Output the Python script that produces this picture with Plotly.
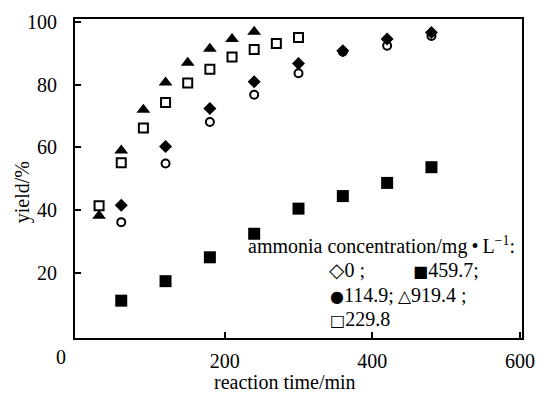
import plotly.graph_objects as go

# Reaction time (min) and yield (%) for each ammonia concentration (mg/L)
t_0 = [60, 120, 180, 240, 300, 360, 420, 480]
y_0 = [36.2, 54.9, 68.1, 76.8, 83.6, 90.5, 92.4, 95.5]

t_114 = [60, 120, 180, 240, 300, 360, 420, 480]
y_114 = [41.6, 60.3, 72.4, 80.9, 86.7, 90.8, 94.5, 96.6]

t_229 = [30, 60, 90, 120, 150, 180, 210, 240, 270, 300]
y_229 = [41.4, 55.1, 66.2, 74.3, 80.5, 84.9, 88.8, 91.2, 93.1, 95.0]

t_459 = [60, 120, 180, 240, 300, 360, 420, 480]
y_459 = [11.2, 17.4, 25.0, 32.5, 40.5, 44.5, 48.7, 53.7]

t_919 = [30, 60, 90, 120, 150, 180, 210, 240]
y_919 = [38.2, 59.0, 72.0, 80.7, 87.0, 91.4, 94.5, 96.8]

x_ticks = [200, 400, 600]
y_ticks = [20, 40, 60, 80, 100]

legend_title = "ammonia concentration/mg\u2009\u2022\u2009L<sup>\u22121</sup>:"
legend_items = [
    ("\u25C7", "0 ;"),
    ("\u25A0", "459.7;"),
    ("\u25CF", "114.9;"),
    ("\u25B3", "919.4 ;"),
    ("\u25A1", "229.8"),
]
legend_sym_size = [20, 16, 16, 17, 16]

FONT = "Liberation Serif"
W, H = 546, 397
ML, MR, MT, MB = 75, 11, 13, 59

fig = go.Figure()

def add_series(x, y, symbol, size, lw=0):
    fig.add_trace(go.Scatter(
        x=x, y=y, mode="markers", showlegend=False,
        marker=dict(symbol=symbol, size=size, color="black",
                    line=dict(color="black", width=lw)),
    ))

add_series(t_0, y_0, "circle-open", 8, 2)
add_series(t_114, y_114, "diamond", 10)
add_series(t_229, y_229, "square-open", 9, 2)
add_series(t_919, y_919, "triangle-up", 12)
add_series(t_459, y_459, "square", 12)

def px_x(p):
    return (p - ML) / (W - ML - MR)

def px_y(p):
    return 1 - (p - MT) / (H - MT - MB)

ann = []
# legend block drawn as text
ann.append(dict(text=legend_title, x=px_x(251), y=px_y(244), xanchor="left",
                yanchor="middle", font=dict(size=20)))
legend_pos = [(334, 269), (421, 269), (335, 294), (405, 294), (335, 319)]
for (sym, lab), fs, (lx, ly) in zip(legend_items, legend_sym_size, legend_pos):
    sym_html = ("<span style='font-family:DejaVu Sans;font-weight:bold;"
                "font-size:%dpx'>" % fs) + sym + "</span>"
    ann.append(dict(text=sym_html + lab, x=px_x(lx), y=px_y(ly), xanchor="left",
                    yanchor="middle", font=dict(size=20)))

# origin label, axis titles
ann.append(dict(text="0", x=px_x(61), y=px_y(357), xanchor="center",
                yanchor="middle", font=dict(size=20)))
ann.append(dict(text="reaction time/min", x=px_x(291), y=px_y(383),
                xanchor="center", yanchor="middle", font=dict(size=20)))
ann.append(dict(text="yield/%", x=px_x(21), y=px_y(190), xanchor="center",
                yanchor="middle", textangle=-90, font=dict(size=20)))

for a in ann:
    a.update(xref="paper", yref="paper", showarrow=False)

fig.update_layout(
    width=W, height=H,
    margin=dict(l=ML, r=MR, t=MT, b=MB, pad=0),
    paper_bgcolor="white", plot_bgcolor="white",
    font=dict(family=FONT, size=20, color="black"),
    annotations=ann,
    xaxis=dict(range=[-2.6, 602.6], tickvals=x_ticks, ticks="inside",
               ticklen=6, tickwidth=1.5, tickcolor="black",
               showline=True, linewidth=2, linecolor="black", mirror=True,
               showgrid=False, zeroline=False, ticklabelstandoff=4,
               ticklabeloverflow="allow"),
    yaxis=dict(range=[-0.7, 100.9], tickvals=y_ticks, ticks="inside",
               ticklen=6, tickwidth=1.5, tickcolor="black",
               showline=True, linewidth=2, linecolor="black", mirror=True,
               showgrid=False, zeroline=False, ticklabelstandoff=12,
               ticklabeloverflow="allow"),
)

fig.write_html("out.html")
